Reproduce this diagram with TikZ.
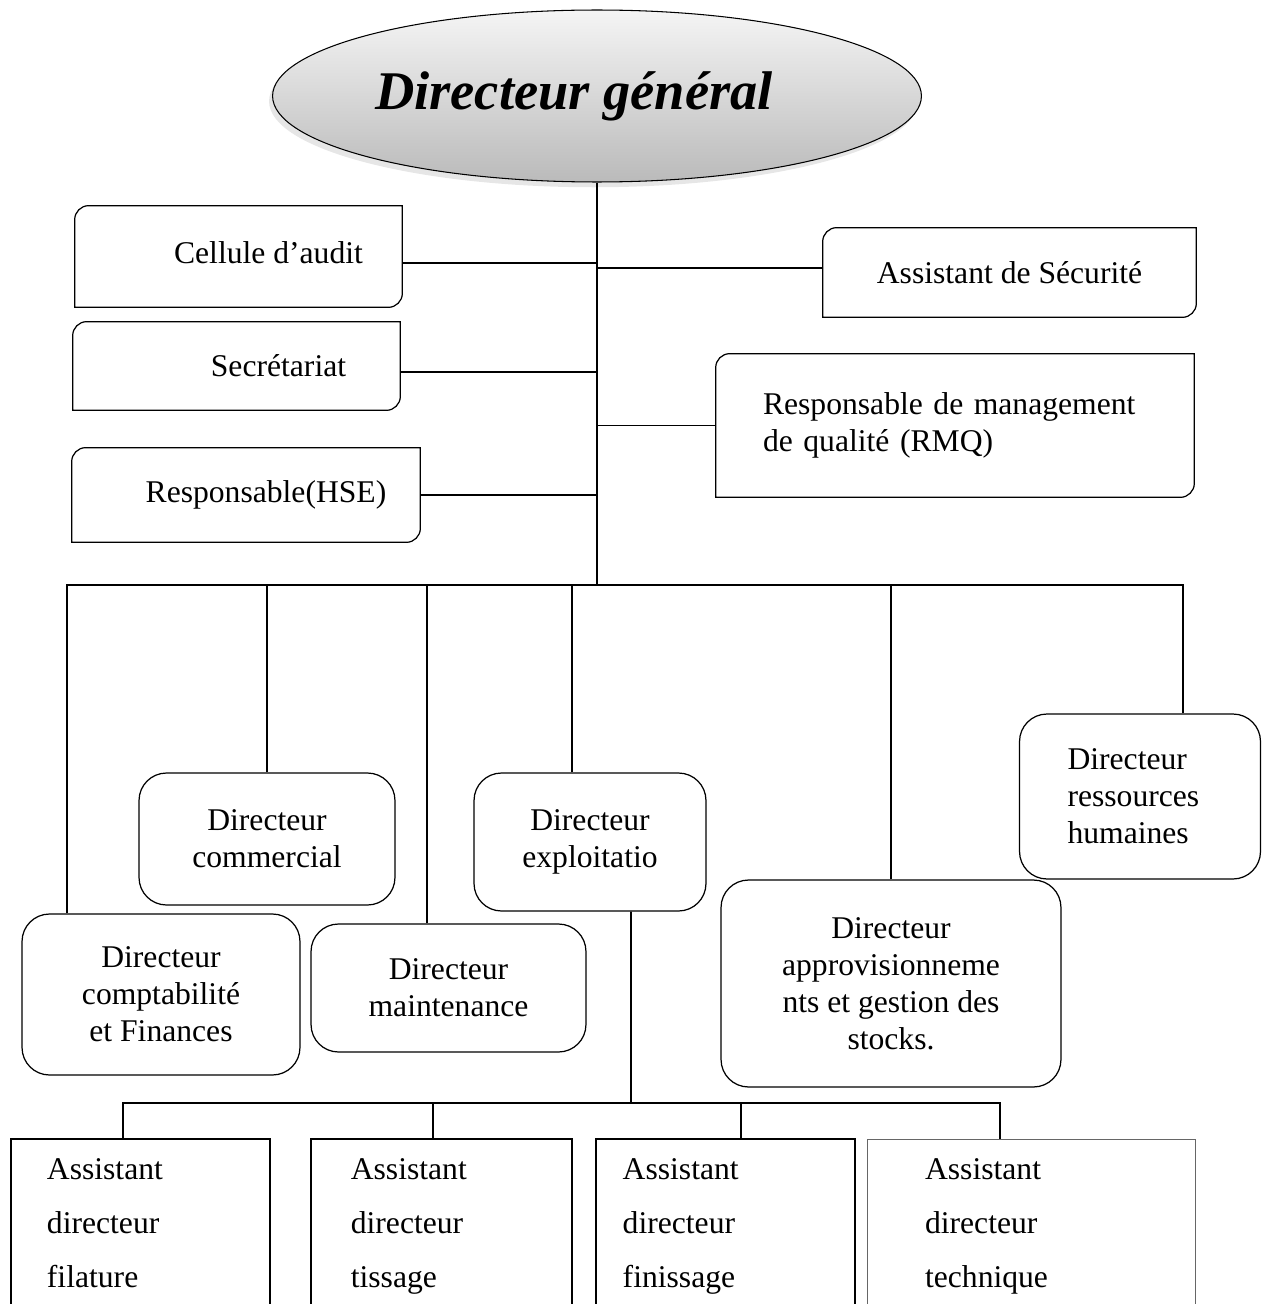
\documentclass[tikz,border=0pt]{standalone}
\usepackage{fontspec}
\setmainfont{Liberation Serif}
\usetikzlibrary{shapes.geometric, positioning, shadows}
\tikzstyle{headoval} = [
	ellipse, 
	minimum width=12.98cm,
	minimum height=3.44cm, 
	draw=black, 
	line width=0.6pt,
	top color=black!4,
	bottom color=black!27,
	drop shadow={shadow xshift=-2pt, shadow yshift=-3pt, opacity=0.2},
	font=\fontsize{31}{36}\selectfont\bfseries\itshape]
\tikzstyle{staffbox} = [
	rectangle, 
	align=center, 
	text centered, 
	font=\fontsize{18}{21}\selectfont]
\tikzstyle{dirbox} = [
	rectangle, 
	rounded corners=0.55cm, 
	draw=black, 
	line width=0.7pt,
	align=center, 
	text centered, 
	font=\fontsize{18}{21}\selectfont]
\tikzstyle{assistbox} = [
	rectangle, 
	draw=black, 
	line width=1.1pt,
	align=left, 
	inner ysep=0.4cm,
	text depth=3cm,
	font=\fontsize{18}{30.7}\selectfont]
\tikzstyle{link} = [line width=1pt]
\tikzstyle{frame} = [line width=0.7pt]
% frame with round top left and bottom right corners
\newcommand{\staffframe}[1]{%
	\draw [frame] ([xshift=0.28cm]#1.north west) -- (#1.north east)
		-- ([yshift=0.28cm]#1.south east) arc[start angle=0, end angle=-90, radius=0.28cm]
		-- (#1.south west) -- ([yshift=-0.28cm]#1.north west)
		arc[start angle=180, end angle=90, radius=0.28cm] -- cycle;}

\begin{document}
\begin{tikzpicture}[x=0.02cm, y=-0.02cm]

\useasboundingbox (0,0) rectangle (1261,1304);
\clip (0,0) rectangle (1261,1304);

% --- Nodes ---
\node (dg) [headoval] at (597,96) {Directeur général\hspace*{0.92cm}};

\node (audit) [staffbox, minimum width=6.54cm, minimum height=2.02cm] at (238.5,256.5) {\hspace*{1.2cm}\raisebox{4pt}{Cellule d’audit}};
\node (secretariat) [staffbox, minimum width=6.54cm, minimum height=1.76cm] at (236.5,366) {\hspace*{1.68cm}Secrétariat};
\node (hse) [staffbox, minimum width=6.96cm, minimum height=1.88cm] at (246,495) {\hspace*{0.8cm}Responsable(HSE)};
\node (securite) [staffbox, minimum width=7.46cm, minimum height=1.78cm] at (1009.5,272.5) {Assistant de Sécurité};
\node (rmq) [staffbox, align=left, text width=7.68cm, inner xsep=0.94cm, minimum height=2.86cm] at (955,425.5) {Responsable de management\\de qualité (RMQ)};

\node (compta) [dirbox, minimum width=5.56cm, minimum height=3.22cm] at (161,994.5) {Directeur\\comptabilité\\et Finances};
\node (commercial) [dirbox, minimum width=5.12cm, minimum height=2.64cm] at (267,839) {Directeur\\commercial};
\node (maintenance) [dirbox, minimum width=5.5cm, minimum height=2.56cm] at (448.5,988) {Directeur\\maintenance};
\node (exploitation) [dirbox, minimum width=4.64cm, minimum height=2.76cm] at (590,842) {Directeur\\exploitatio};
\node (appro) [dirbox, minimum width=6.8cm, minimum height=4.14cm] at (891,983.5) {Directeur\\approvisionneme\\nts et gestion des\\stocks.};
\node (rh) [dirbox, align=left, text width=2.9cm, inner xsep=0.96cm, minimum height=3.3cm] at (1140,796.5) {Directeur\\ressources\\humaines};

\node (filature) [assistbox, anchor=north west, text width=3.74cm, inner xsep=0.72cm] at (10,1138) {Assistant\\directeur\\filature};
\node (tissage) [assistbox, right=0.78cm of filature, text width=3.62cm, inner xsep=0.8cm] {Assistant\\directeur\\tissage};
\node (finissage) [assistbox, right=0.44cm of tissage, text width=4.1cm, inner xsep=0.54cm] {Assistant\\directeur\\finissage};
\node (technique) [assistbox, right=0.22cm of finissage, text width=4.24cm, inner xsep=1.16cm, draw=black!60, line width=0.5pt] {Assistant\\directeur\\technique};

\coordinate (hub) at (597,585);
\coordinate (subhub) at (631,1103);

\staffframe{audit}
\staffframe{secretariat}
\staffframe{hse}
\staffframe{securite}
\staffframe{rmq}

% --- Arrows ---
\draw [link] (dg.south) -- (hub);

\draw [link] ([yshift=-0.13cm]audit.east) -- ([yshift=-0.13cm]audit.east -| hub);
\draw [link] ([yshift=-0.12cm]secretariat.east) -- ([yshift=-0.12cm]secretariat.east -| hub);
\draw [link] (hse.east) -- (hse.east -| hub);
\draw [link] ([yshift=0.09cm]securite.west) -- ([yshift=0.09cm]securite.west -| hub);
\draw [link] (rmq.west) -- (rmq.west -| hub);

\draw [link] ([xshift=-1.88cm]compta.north) |- (hub);
\draw [link] (commercial.north) |- (hub);
\draw [link] ([xshift=-0.43cm]maintenance.north) |- (hub);
\draw [link] ([xshift=-0.36cm]exploitation.north) |- (hub);
\draw [link] (appro.north) |- (hub);
\draw [link] ([xshift=0.86cm]rh.north) |- (hub);

\draw [link] ([xshift=0.82cm]exploitation.south) -- (subhub);
\draw [link] ([xshift=-0.35cm]filature.north) |- (subhub);
\draw [link] ([xshift=-0.17cm]tissage.north) |- (subhub);
\draw [link] ([xshift=0.31cm]finissage.north) |- (subhub);
\draw [link] ([xshift=-0.62cm]technique.north) |- (subhub);

\end{tikzpicture}
\end{document}
